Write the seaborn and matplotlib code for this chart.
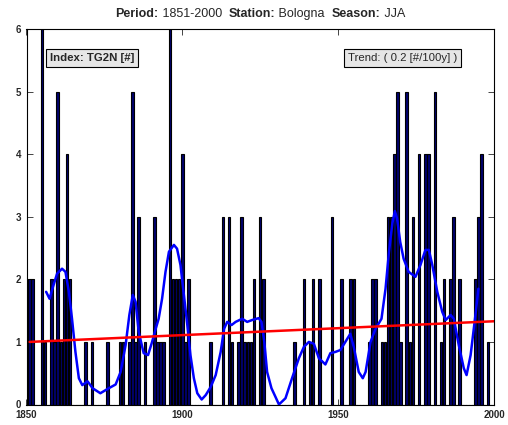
import numpy as np
import pandas as pd
import matplotlib
matplotlib.use("Agg")
import matplotlib.pyplot as plt
import seaborn as sns

# ---------------- data ----------------
years = list(range(1851, 2001))
counts = [
    # 1851-1860
    2, 2, 0, 0, 6, 1, 0, 2, 1, 5,
    # 1861-1870
    1, 2, 4, 2, 0, 0, 0, 0, 1, 0,
    # 1871-1880
    1, 0, 0, 0, 0, 1, 0, 0, 0, 1,
    # 1881-1890
    1, 0, 1, 5, 1, 3, 0, 1, 0, 0,
    # 1891-1900
    3, 1, 1, 1, 0, 6, 2, 2, 2, 4,
    # 1901-1910
    1, 2, 0, 0, 0, 0, 0, 0, 1, 0,
    # 1911-1920
    0, 0, 3, 0, 3, 1, 0, 1, 3, 1,
    # 1921-1930
    1, 1, 2, 0, 3, 2, 0, 0, 0, 0,
    # 1931-1940
    0, 0, 0, 0, 0, 1, 0, 0, 2, 0,
    # 1941-1950
    1, 2, 0, 2, 0, 0, 0, 3, 0, 0,
    # 1951-1960
    2, 0, 0, 2, 2, 0, 0, 0, 0, 1,
    # 1961-1970
    2, 2, 0, 1, 1, 3, 3, 4, 5, 1,
    # 1971-1980
    0, 5, 1, 3, 0, 4, 0, 4, 4, 0,
    # 1981-1990
    5, 0, 1, 2, 0, 2, 3, 0, 2, 0,
    # 1991-2000
    0, 0, 0, 2, 3, 4, 0, 1, 0, 0,
]

smooth_years = [1856.3, 1857.4, 1858.2, 1859.8, 1861.4, 1862.5, 1863.6, 1864.6, 1865.7, 1866.8,
                1867.9, 1869.6, 1871.2, 1873.7, 1876.4, 1878.6, 1880.2, 1881.8, 1883.0, 1884.1,
                1885.0, 1886.0, 1887.6, 1889.0, 1890.3, 1891.4, 1892.4, 1893.5, 1894.6, 1895.7,
                1897.3, 1898.3, 1899.4, 1900.5, 1901.6, 1902.6, 1903.7, 1904.8, 1906.2, 1907.5,
                1909.1, 1910.7, 1912.3, 1913.4, 1914.4, 1915.8, 1917.1, 1919.2, 1920.8, 1922.4,
                1924.5, 1925.4, 1926.3, 1927.2, 1928.6, 1929.9, 1931.0, 1933.1, 1935.2, 1937.4,
                1939.0, 1940.6, 1942.2, 1943.8, 1945.9, 1947.5, 1949.1, 1950.7, 1952.3, 1953.9,
                1955.0, 1956.6, 1957.9, 1958.8, 1960.4, 1962.0, 1963.9, 1965.2, 1966.3, 1967.4,
                1968.2, 1968.9, 1969.9, 1971.0, 1972.6, 1974.8, 1976.4, 1978.0, 1979.1, 1980.2,
                1981.8, 1983.4, 1984.5, 1986.1, 1987.1, 1988.7, 1990.3, 1991.2, 1992.5, 1993.9,
                1995.0]
smooth_vals = [1.80, 1.69, 1.83, 2.09, 2.17, 2.12, 1.80, 1.37, 0.84, 0.42,
               0.31, 0.37, 0.26, 0.18, 0.26, 0.32, 0.52, 0.95, 1.43, 1.75,
               1.64, 1.16, 0.82, 0.79, 1.00, 1.20, 1.37, 1.69, 2.12, 2.44,
               2.55, 2.49, 2.23, 1.75, 1.27, 0.79, 0.42, 0.18, 0.08, 0.15,
               0.28, 0.47, 0.84, 1.21, 1.32, 1.27, 1.32, 1.37, 1.32, 1.35,
               1.38, 1.32, 1.00, 0.52, 0.26, 0.12, 0.00, 0.10, 0.42, 0.74,
               0.92, 1.00, 0.97, 0.74, 0.64, 0.82, 0.84, 0.87, 1.00, 1.13,
               0.92, 0.52, 0.42, 0.52, 1.00, 1.21, 1.37, 1.85, 2.44, 2.90,
               3.09, 2.97, 2.60, 2.33, 2.12, 2.04, 2.23, 2.47, 2.47, 2.23,
               1.80, 1.48, 1.35, 1.43, 1.37, 0.95, 0.58, 0.47, 0.79, 1.37,
               1.85]

trend_years = [1851, 2000]
trend_vals = [1.00, 1.33]

xticks = [1850, 1900, 1950, 2000]
yticks = [0, 1, 2, 3, 4, 5, 6]

title_pieces = [("Period:", "bold"), (" 1851-2000  ", "normal"),
                ("Station:", "bold"), (" Bologna  ", "normal"),
                ("Season:", "bold"), (" JJA", "normal")]
index_label = "Index: TG2N [#]"
trend_label = "Trend: ( 0.2 [#/100y] )"

# ---------------- style ----------------
sns.set_style("white")
plt.rcParams["font.family"] = ["Liberation Sans", "DejaVu Sans"]

W, H = 508, 425
fig = plt.figure(figsize=(W / 100, H / 100), dpi=100)
fig.patch.set_facecolor("white")
left, right, top, bottom = 26.5, 494, 29, 404.5
ax = fig.add_axes([left / W, 1 - bottom / H, (right - left) / W, (bottom - top) / H])

df = pd.DataFrame({"year": years, "count": counts})
sns.histplot(data=df, x="year", weights="count", discrete=True, shrink=0.8,
             color="#00006e", edgecolor="black", linewidth=0.8, alpha=1.0, ax=ax)

sns.lineplot(x=smooth_years, y=smooth_vals, color="#0000ff", linewidth=1.8,
             sort=False, estimator=None, ax=ax)
sns.lineplot(x=trend_years, y=trend_vals, color="#ff0000", linewidth=1.8,
             sort=False, estimator=None, ax=ax)

ax.set_xlim(1850, 2000)
ax.set_ylim(0, 6)
ax.set_xticks(xticks)
ax.set_yticks(yticks)
ax.set_xticklabels([str(v) for v in xticks], fontsize=7, fontweight="bold")
ax.set_yticklabels([str(v) for v in yticks], fontsize=7, fontweight="bold")
ax.tick_params(direction="in", top=True, right=True, length=4, width=0.6,
               bottom=True, left=True)
ax.tick_params(axis="x", pad=4)
ax.tick_params(axis="y", pad=4)
ax.set_xlabel("")
ax.set_ylabel("")
for s in ax.spines.values():
    s.set_visible(True)
    s.set_color("black")
    s.set_linewidth(0.8)

box = dict(boxstyle="square,pad=0.35", facecolor="#e6e6e6", edgecolor="black", linewidth=0.8)
ax.text(0.050, 0.922, index_label, transform=ax.transAxes, fontsize=8.2,
        fontweight="bold", ha="left", va="center", bbox=box)
ax.text(0.688, 0.922, trend_label, transform=ax.transAxes, fontsize=8.2,
        ha="left", va="center", bbox=box)

# title built of bold/normal pieces, centred over the axes
r = fig.canvas.get_renderer()
texts = [fig.text(0, 0, s, fontsize=9, fontweight=w, ha="left", va="baseline")
         for s, w in title_pieces]
widths = [t.get_window_extent(r).width for t in texts]
total = sum(widths)
cx = (left + right) / 2
x0 = cx - total / 2
ybase = 1 - 17 / H
for t, w in zip(texts, widths):
    t.set_position((x0 / W, ybase))
    x0 += w

fig.savefig("out.png", dpi=100)
